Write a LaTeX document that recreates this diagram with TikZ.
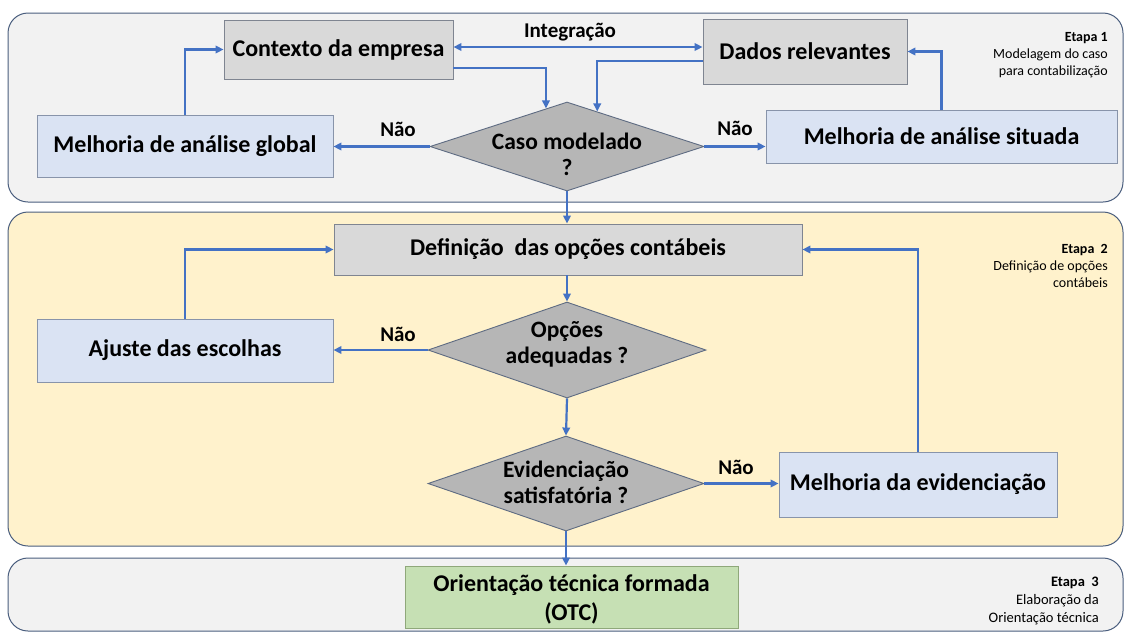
\documentclass[tikz,border=0pt]{standalone}
\usepackage{fontspec}
\setmainfont{Carlito}
\usetikzlibrary{shapes.geometric,arrows.meta,calc}
\definecolor{arr}{HTML}{4472C4}
\definecolor{panelc}{HTML}{4A5E7E}
\definecolor{pgray}{HTML}{F2F2F2}
\definecolor{pyel}{HTML}{FFF2CC}
\definecolor{gfill}{HTML}{D9D9D9}
\definecolor{gborder}{HTML}{7F8591}
\definecolor{bfill}{HTML}{DAE3F3}
\definecolor{bborder}{HTML}{8894AA}
\definecolor{dfill}{HTML}{B6B6B6}
\definecolor{dborder}{HTML}{5E6B82}
\definecolor{ofill}{HTML}{C6E0B4}
\definecolor{oborder}{HTML}{8FA87A}
\newcommand\dtx[2]{\makebox[0pt]{\raisebox{#1}[0pt][0pt]{\begin{tabular}{@{}c@{}}#2\end{tabular}}}}
\begin{document}
\begin{tikzpicture}[x=1pt,y=-1pt,
  >={Triangle[length=8pt,width=7.5pt]},
  panel/.style={draw=panelc, line width=1pt, rounded corners=20pt},
  boxbase/.style={rectangle, line width=0.9pt, inner sep=0pt, align=center,
    font=\fontsize{24}{30}\selectfont\bfseries},
  gbox/.style={boxbase, draw=gborder, fill=gfill},
  bbox/.style={boxbase, draw=bborder, fill=bfill},
  obox/.style={boxbase, draw=oborder, fill=ofill},
  dia/.style={diamond, draw=dborder, fill=dfill, inner sep=0pt, line width=0.9pt,
    font=\fontsize{23.5}{26}\selectfont\bfseries},
  conn/.style={draw=arr, line width=2.2pt, ->},
  lbl/.style={font=\fontsize{21}{24}\selectfont\bfseries, inner sep=0pt},
  etapa/.style={align=right, anchor=north east, inner sep=0pt}
]
\useasboundingbox (0,0) rectangle (1126,633);
\fill[white] (0,0) rectangle (1126,633);

% panels
\draw[panel, fill=pgray] (8,13) rectangle (1123,202);
\draw[panel, fill=pyel] (8,212) rectangle (1123,546);
\draw[panel, fill=pgray] (8,558) rectangle (1123,631);

% stage 1
\node[gbox, minimum width=229pt, minimum height=59pt] (ctx) at (338.5,49.5) {Contexto da empresa};
\node[gbox, minimum width=204pt, minimum height=65pt] (dados) at (805,51.5) {Dados relevantes};
\node[bbox, minimum width=296pt, minimum height=62pt] (mglob) at (185,146) {Melhoria de análise global};
\node[bbox, minimum width=351pt, minimum height=53pt] (msit) at (941.5,136.5) {Melhoria de análise situada};
\node[dia, minimum width=274pt, minimum height=89pt] (caso) at (567,146.5) {\dtx{-17.4pt}{Caso modelado\\?}};

% stage 2
\node[gbox, minimum width=468pt, minimum height=51pt] (defn) at (568,249.5) {Definição\ \ das opções contábeis};
\node[bbox, minimum width=296pt, minimum height=63pt] (ajuste) at (185,350.5) {Ajuste das escolhas};
\node[dia, minimum width=278pt, minimum height=96pt] (opc) at (567,350) {\dtx{-1.4pt}{Opções\\adequadas ?}};
\node[dia, minimum width=276pt, minimum height=95pt] (evid) at (566,483.5) {\dtx{-7.9pt}{Evidenciação\\satisfatória ?}};
\node[bbox, minimum width=278pt, minimum height=65pt] (mevid) at (918,484.5) {Melhoria da evidenciação};

% stage 3
\node[obox, minimum width=333pt, minimum height=62pt] (otc) at (571.5,597) {\raisebox{-3pt}[\height][\depth]{\begin{tabular}{@{}c@{}}Orientação técnica formada\\[-1pt](OTC)\end{tabular}}};

% stage labels
\node[etapa, font=\fontsize{14}{17}\selectfont] (e1) at (1108,32) {\textbf{Etapa 1}\\Modelagem do caso\\para contabilização};
\node[etapa, font=\fontsize{14}{17}\selectfont] (e2) at (1108,244) {\textbf{Etapa\ \ 2}\\Definição de opções\\contábeis};
\node[etapa, font=\fontsize{14.5}{18}\selectfont] (e3) at (1099,577) {\textbf{Etapa\ \ 3}\\Elaboração da\\Orientação técnica};

% connectors stage 1
\coordinate (ia) at ($(ctx.east)+(0,-2.5)$);
\draw[conn, <->] (ia) -- (ia -| dados.west);
\node[lbl] (integ) at (570,32) {Integração};
\draw[conn] (mglob.north) |- (ctx.west);
\coordinate (ca) at ($(ctx.east)+(0,18.5)$);
\draw[conn] (ca) -| ($(caso.north)!0.153!(caso.west)$);
\coordinate (da) at ($(dados.west)+(0,9.5)$);
\draw[conn] (da) -| ($(caso.north)!0.22!(caso.east)$);
\draw[conn] (msit.north) |- (dados.east);
\draw[conn] (caso.west) -- (caso.west -| mglob.east);
\node[lbl] (n1) at (398,129) {Não};
\draw[conn] (caso.east) -- (caso.east -| msit.west);
\node[lbl] (n2) at (735,128) {Não};
\draw[conn] (caso.south) -- (caso.south |- defn.north);

% connectors stage 2
\draw[conn] (defn.south -| opc.north) -- (opc.north);
\draw[conn] (opc.west) -- (opc.west -| ajuste.east);
\node[lbl] (n3) at (398,334) {Não};
\draw[conn] (ajuste.north) |- (defn.west);
\draw[conn] (opc.south) -- (evid.north);
\draw[conn] (evid.east) -- (evid.east -| mevid.west);
\node[lbl] (n4) at (736,467) {Não};
\draw[conn] (mevid.north) |- (defn.east);
\draw[conn] (evid.south) -- (evid.south |- otc.north);
\end{tikzpicture}
\end{document}
